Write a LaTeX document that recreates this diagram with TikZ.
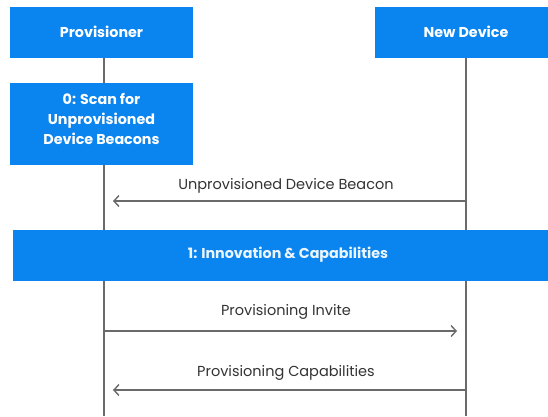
\documentclass[tikz,border=0pt]{standalone}
\usepackage{fontspec}
\setmainfont{Poppins}
\usetikzlibrary{arrows.meta}
\definecolor{boxblue}{HTML}{0A84EE}
\definecolor{lifegray}{HTML}{6A6A6A}
\definecolor{labelgray}{HTML}{333333}
\begin{document}
\begin{tikzpicture}[x=1pt,y=-1pt,
  actor/.style={fill=boxblue, draw=none, text=white, font=\fontsize{14.3}{16}\selectfont\bfseries,
    minimum height=51pt, inner sep=0pt, align=center},
  life/.style={draw=lifegray, line width=1.4pt},
  msg/.style={draw=lifegray, line width=1.4pt, shorten >=9pt,
    -{Straight Barb[length=5pt,width=11pt,line width=1.4pt]}},
  msglabel/.style={text=labelgray, font=\fontsize{14.5}{16}\selectfont, inner sep=0pt}]
\clip (0,0) rectangle (548,416);
\fill[white] (0,0) rectangle (548,416);

% lifeline positions
\coordinate (pl) at (104,416);
\coordinate (dl) at (466,416);

% actor heads and their lifelines, drawn first so later boxes cover them
\node[actor, minimum width=183pt] (prov) at (101.5,32) {Provisioner};
\node[actor, minimum width=182pt] (dev) at (466,32) {New Device};
\draw[life] (prov.south -| pl) -- (pl);
\draw[life] (dev.south -| dl) -- (dl);

% step 0
\node[actor, minimum width=183pt, minimum height=82pt, text depth=11pt,
  font=\fontsize{14.3}{20}\selectfont\bfseries] (scan) at (101.5,124)
  {0: Scan for\\Unprovisioned\\Device Beacons};

% beacon message
\coordinate (b1) at (466,201);
\coordinate (b2) at (104,201);
\draw[msg] (b1) -- (b2);
\node[msglabel] (lb) at (286,186) {Unprovisioned Device Beacon};

% step 1 band
\node[actor, minimum width=550pt, text=white!92!boxblue] (band) at (288,255) {1: Innovation \& Capabilities};

% invite
\coordinate (i1) at (104,331);
\coordinate (i2) at (466,331);
\draw[msg] (i1) -- (i2);
\node[msglabel] (li) at (286,312) {Provisioning Invite};

% capabilities
\coordinate (c1) at (466,390);
\coordinate (c2) at (104,390);
\draw[msg] (c1) -- (c2);
\node[msglabel] (lc) at (286,373) {Provisioning Capabilities};
\end{tikzpicture}
\end{document}
